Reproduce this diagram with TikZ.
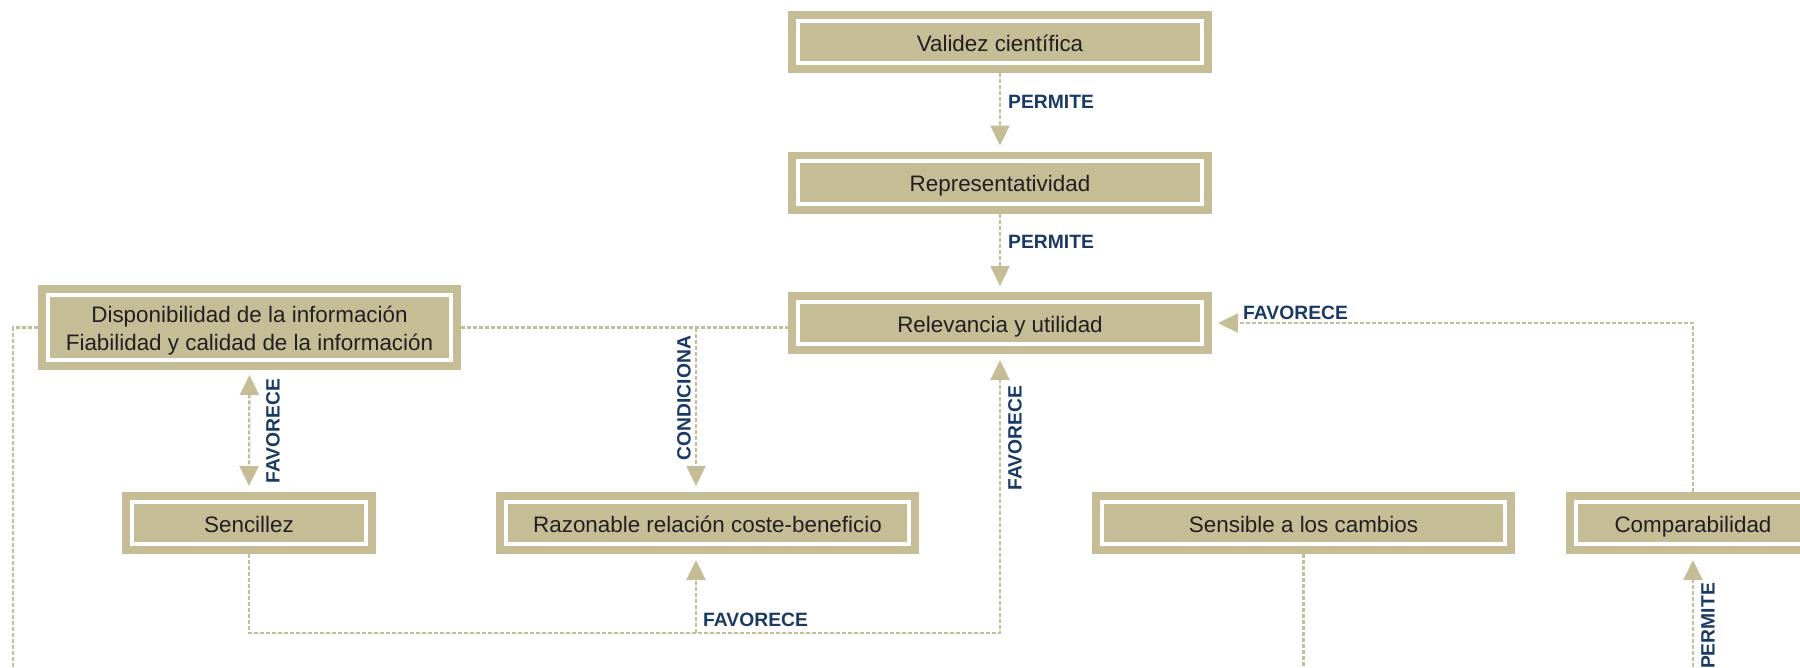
\documentclass[tikz,border=0pt]{standalone}
\usepackage{fontspec}
\setmainfont{Liberation Sans}
\usetikzlibrary{arrows.meta}
\definecolor{tan}{RGB}{197,189,150}
\definecolor{navy}{RGB}{27,58,99}
\definecolor{ink}{RGB}{35,31,32}
\tikzset{
 box/.style={rectangle, fill=tan, inner sep=0pt, outer sep=0pt, minimum height=62pt,
   text=ink, align=center, font=\fontsize{22.4pt}{27.4pt}\selectfont,
   path picture={\draw[white,line width=4pt]
     ([shift={(9.7pt,-9.7pt)}]path picture bounding box.north west) rectangle
     ([shift={(-9.7pt,9.7pt)}]path picture bounding box.south east);}},
 one/.style={text height=18pt, text depth=0pt},
 wide/.style={minimum width=424pt},
 narrow/.style={minimum width=254pt},
 boxtext/.style={text=ink, align=center, inner sep=0pt, font=\fontsize{22.4pt}{27.4pt}\selectfont},
 conn/.style={draw=tan, line width=2.3pt, dash pattern=on 4pt off 2pt},
 arr/.style={conn, -{Triangle[width=19pt,length=20pt]}, shorten >=6pt},
 lbl/.style={text=navy, font=\fontsize{19.3pt}{22pt}\selectfont\bfseries, inner sep=0pt},
}
\begin{document}
\begin{tikzpicture}[x=1pt,y=-1pt]
\useasboundingbox (0,0) rectangle (1800,667);
\clip (0,0) rectangle (1800,667);
% boxes
\node[box,one,wide] (val) at (1000,42) {Validez científica};
\node[box,one,wide] (rep) at (1000,182.5) {Representatividad};
\node[box,one,wide] (rel) at (1000,323) {Relevancia y utilidad};
\node[box,minimum width=423pt,minimum height=85pt] (dis) at (249.5,327.5) {};
\node[boxtext] (dist) at (249.5,330.5) {Disponibilidad de la información\\Fiabilidad y calidad de la información};
\node[box,one,narrow] (sen) at (249,523) {Sencillez};
\node[box,one,minimum width=423pt] (raz) at (707.5,523) {Razonable relación coste-beneficio};
\node[box,one,minimum width=423pt] (sens) at (1303.5,523) {Sensible a los cambios};
\node[box,one,narrow] (comp) at (1693,523) {Comparabilidad};
% junction coordinates
\coordinate (cj) at (696,327.5);
\coordinate (lc) at (13,327.5);
\coordinate (lb) at (13,667);
\coordinate (bj) at (696,633);
\coordinate (bc) at (1000,633);
\coordinate (sb) at (1303.5,667);
\coordinate (pb) at (1693,667);
% connectors
\draw[arr] (val) -- (rep);
\draw[arr] (rep) -- (rel);
\draw[conn] (dis.east) -- (dis.east -| rel.west);
\draw[arr] (cj) -- (cj |- raz.north);
\draw[conn] (dis.west) -- (lc) -- (lb);
\draw[conn,{Triangle[width=19pt,length=20pt]}-{Triangle[width=19pt,length=20pt]},shorten <=5pt,shorten >=6pt] (dis.south) -- (sen.north);
\draw[arr] (sen.south) |- (bc) -- (rel.south);
\draw[arr] (bj) -- (bj |- raz.south);
\draw[arr] (comp.north) |- (rel.east);
\draw[conn] (sens.south) -- (sb);
\draw[arr] (pb) -- (comp.south);
% labels
\node[lbl,anchor=west] (l1) at (1008,102) {PERMITE};
\node[lbl,anchor=west] (l2) at (1008,242) {PERMITE};
\node[lbl,rotate=90] (l3) at (684,398) {CONDICIONA};
\node[lbl,rotate=90] (l4) at (273,431) {FAVORECE};
\node[lbl,rotate=90] (l5) at (1015,438) {FAVORECE};
\node[lbl,anchor=west] (l6) at (703,620) {FAVORECE};
\node[lbl,anchor=west] (l7) at (1243,313) {FAVORECE};
\node[lbl,rotate=90] (l8) at (1708,626) {PERMITE};
\end{tikzpicture}
\end{document}
